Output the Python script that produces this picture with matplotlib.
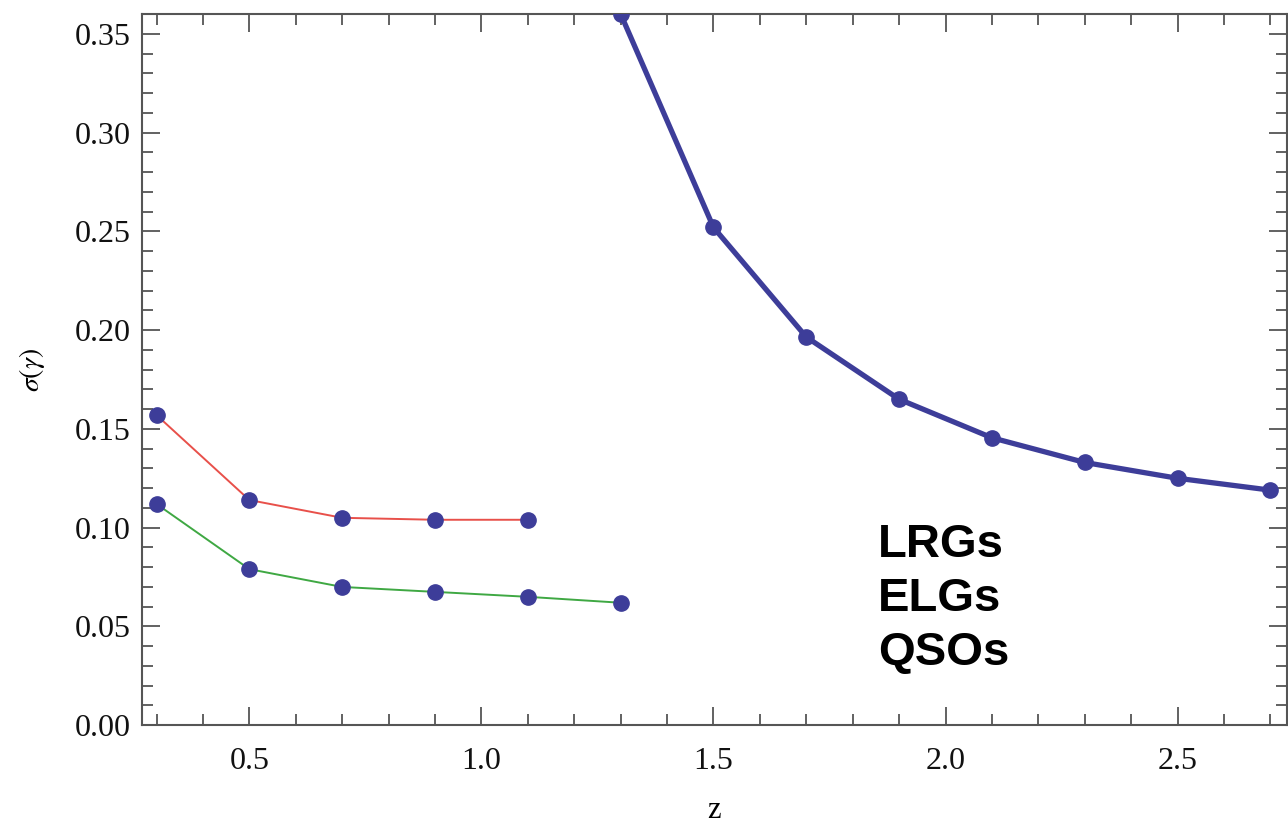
import matplotlib
matplotlib.use("Agg")
import matplotlib.pyplot as plt
from matplotlib.ticker import MultipleLocator, FormatStrFormatter

# data
z_lrg = [0.3, 0.5, 0.7, 0.9, 1.1]
sig_lrg = [0.157, 0.114, 0.105, 0.104, 0.104]

z_elg = [0.3, 0.5, 0.7, 0.9, 1.1, 1.3]
sig_elg = [0.112, 0.079, 0.070, 0.0675, 0.065, 0.062]

z_qso = [1.3, 1.5, 1.7, 1.9, 2.1, 2.3, 2.5, 2.7]
sig_qso = [0.36, 0.252, 0.1965, 0.165, 0.1455, 0.133, 0.125, 0.119]

labels = ["LRGs", "ELGs", "QSOs"]

plt.rcParams["mathtext.fontset"] = "stix"
serif = "Liberation Serif"
dot = "#3d3d99"
spine = "#555555"

fig = plt.figure(figsize=(12.88, 8.26), dpi=100)
ax = fig.add_axes([0.110, 0.122, 0.889, 0.861])

ax.plot(z_lrg, sig_lrg, color="#e8504a", lw=1.4, zorder=2)
ax.plot(z_elg, sig_elg, color="#3fa843", lw=1.4, zorder=2)
ax.plot(z_qso, sig_qso, color=dot, lw=3.8, zorder=2)
for xs, ys in [(z_lrg, sig_lrg), (z_elg, sig_elg), (z_qso, sig_qso)]:
    ax.plot(xs, ys, "o", color=dot, ms=11, zorder=3)

ax.set_xlim(0.268, 2.735)
ax.set_ylim(0.0, 0.36)

ax.xaxis.set_major_locator(MultipleLocator(0.5))
ax.xaxis.set_minor_locator(MultipleLocator(0.1))
ax.yaxis.set_major_locator(MultipleLocator(0.05))
ax.yaxis.set_minor_locator(MultipleLocator(0.01))
ax.xaxis.set_major_formatter(FormatStrFormatter("%.1f"))
ax.yaxis.set_major_formatter(FormatStrFormatter("%.2f"))

ax.tick_params(which="both", direction="in", top=True, right=True,
               color=spine, width=1.3)
ax.tick_params(which="major", length=13, labelsize=23, pad=8)
ax.tick_params(axis="x", which="major", pad=16)
ax.tick_params(which="minor", length=8)
for lab in ax.get_xticklabels() + ax.get_yticklabels():
    lab.set_fontfamily(serif)
    lab.set_color("#111111")
for s in ax.spines.values():
    s.set_color(spine)
    s.set_linewidth(1.5)

ax.set_xlabel("z", fontfamily=serif, fontsize=22, labelpad=14)
ax.set_ylabel(r"$\sigma(\gamma)$", fontsize=20, labelpad=20)

for i, t in enumerate(labels):
    ax.text(0.643, 0.253 - i * 0.076, t, transform=ax.transAxes,
            fontfamily="Liberation Sans", fontweight="bold", fontsize=34,
            va="center", ha="left")

fig.savefig("out.png", dpi=100)
